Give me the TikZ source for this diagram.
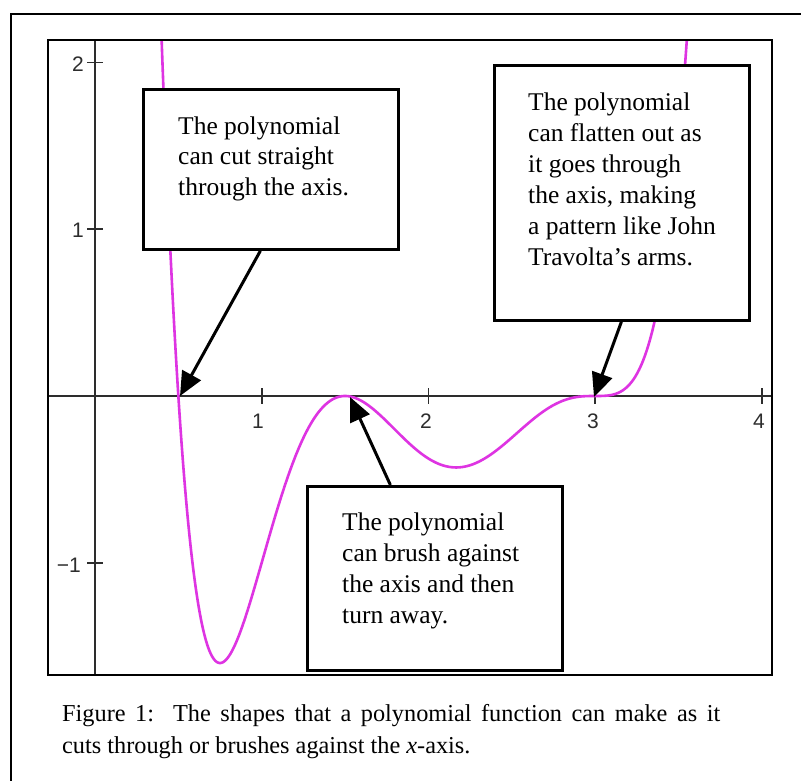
\documentclass[tikz,border=0pt]{standalone}
\usepackage{fontspec}
\setmainfont{Liberation Serif}
\newfontfamily\tickfont{Liberation Sans}
\usetikzlibrary{arrows.meta}
\definecolor{curvemag}{RGB}{222,52,226}
\definecolor{axisgray}{RGB}{45,45,45}
\tikzset{
  frameline/.style={line width=2.6pt, draw=black},
  outerline/.style={line width=1.6pt, draw=black},
  axisline/.style={line width=1.8pt, draw=axisgray},
  tickline/.style={line width=1.8pt, draw=axisgray},
  ticklab/.style={font=\tickfont\fontsize{21}{21}\selectfont, inner sep=0pt, text=axisgray},
  curveline/.style={line width=2.6pt, draw=curvemag, line join=round},
  callout/.style={draw=black, line width=2.8pt, fill=white, anchor=north west, inner sep=0pt},
  callouttext/.style={anchor=base west, align=left, inner sep=0pt, font=\fontsize{25.5}{31}\selectfont},
  pointer/.style={line width=3pt, -{Triangle[length=24pt,width=21pt]}},
  captiontext/.style={anchor=base west, text width=658pt, align=justify, inner sep=0pt, font=\fontsize{24.3}{32}\selectfont}
}
\begin{document}
\begin{tikzpicture}[x=1pt,y=-1pt]
\useasboundingbox (0,0) rectangle (801,781);
\clip (0,0) rectangle (801,781);
\fill[white] (0,0) rectangle (801,781);
% outer frame
\draw[outerline] (11,14) rectangle (830,810);
% plot
\begin{scope}
\clip (48,40) rectangle (772,675);
\draw[axisline] (48,396) -- (772,396);
\draw[axisline] (95,40) -- (95,675);
\foreach \t in {1,2,3,4} {
  \draw[tickline] ({95+166.7*\t},388) -- ({95+166.7*\t},404);
}
\foreach \t in {2,1,-1} {
  \draw[tickline] (87,{396-166.7*\t}) -- (103,{396-166.7*\t});
}
\draw[curveline] plot[domain=0.38:3.58, samples=600]
  ({95+166.7*\x}, {396-166.7*(\x-0.5)*(\x-1.5)*(\x-1.5)*(\x-3)*(\x-3)*(\x-3)});
\end{scope}
\draw[frameline] (48,40) rectangle (772,675);
% tick labels
\node[ticklab] (lx1) at (258,421) {1};
\node[ticklab] (lx2) at (426,421) {2};
\node[ticklab] (lx3) at (593,421) {3};
\node[ticklab] (lx4) at (759,421) {4};
\node[ticklab, anchor=east] (ly2) at (84,64) {2};
\node[ticklab, anchor=east] (ly1) at (84,230) {1};
\node[ticklab, anchor=east] (lym1) at (81,565) {−1};
% roots
\coordinate (r1) at (180,396);
\coordinate (r2) at (350,397);
\coordinate (r3) at (594,397);
% callout boxes
\node[callout, minimum width=255pt, minimum height=160pt] (box1) at (142,88) {};
\node[callouttext] (t1) at (178,196) {The polynomial\\can cut straight\\through the axis.};
\node[callout, minimum width=255pt, minimum height=255pt] (box2) at (493,64) {};
\node[callouttext] (t2) at (528,265) {The polynomial\\can flatten out as\\it goes through\\the axis, making\\a pattern like John\\Travolta’s arms.};
\node[callout, minimum width=255pt, minimum height=184pt] (box3) at (306,485) {};
\node[callouttext] (t3) at (342,623) {The polynomial\\can brush against\\the axis and then\\turn away.};
% pointers
\draw[pointer] ([xshift=-10.5pt]box1.south) -- (r1);
\draw[pointer] ([xshift=-0.5pt]box2.south) -- (r3);
\draw[pointer] ([xshift=-44.5pt]box3.north) -- (r2);
% caption
\node[captiontext] (cap) at (62,721) {Figure 1:\ \ The shapes that a polynomial function can make as it\linebreak cuts through or brushes against the \textit{x}-axis.};
\end{tikzpicture}
\end{document}
